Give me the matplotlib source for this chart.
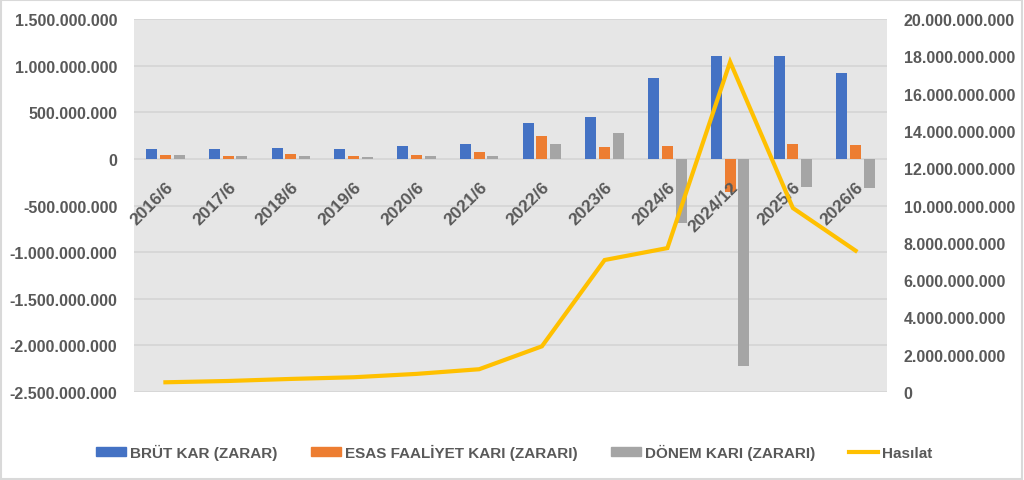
import matplotlib.pyplot as plt
import numpy as np
from matplotlib.patches import Patch, Rectangle
from matplotlib.lines import Line2D
from matplotlib.ticker import FuncFormatter, MultipleLocator

# data
periods = ['2016/6', '2017/6', '2018/6', '2019/6', '2020/6', '2021/6',
           '2022/6', '2023/6', '2024/6', '2024/12', '2025/6', '2026/6']
brut_kar = [107e6, 107e6, 121e6, 107e6, 142e6, 164e6,
            386e6, 454e6, 866e6, 1101e6, 1101e6, 922e6]
esas_faaliyet = [46e6, 35e6, 57e6, 35e6, 46e6, 71e6,
                 250e6, 132e6, 140e6, -350e6, 161e6, 150e6]
donem_kari = [46e6, 28e6, 28e6, 21e6, 35e6, 35e6,
              164e6, 275e6, -686e6, -2217e6, -297e6, -308e6]
hasilat = [0.52e9, 0.59e9, 0.70e9, 0.79e9, 0.97e9, 1.22e9,
           2.45e9, 7.08e9, 7.72e9, 17.71e9, 9.87e9, 7.58e9]

txt = '#595959'
font = 'Liberation Sans'


def dotted(v, pos):
    return f"{int(round(v)):,}".replace(',', '.')


fig = plt.figure(figsize=(10.24, 4.81), dpi=100)
fig.patches.append(Rectangle((0.001, 0.002), 0.997, 0.995, transform=fig.transFigure,
                             fill=False, edgecolor='#D9D9D9', lw=1.5))
ax = fig.add_axes([0.1309, 0.183, 0.7353, 0.775])
ax.set_facecolor('#E6E6E6')

x = np.arange(len(periods))
w = 0.175
ax.bar(x - 0.218, brut_kar, w, color='#4472C4', zorder=3)
ax.bar(x, esas_faaliyet, w, color='#ED7D31', zorder=3)
ax.bar(x + 0.218, donem_kari, w, color='#A5A5A5', zorder=3)

ax.set_xlim(-0.5, len(periods) - 0.5)
ax.set_ylim(-2.5e9, 1.5e9)
ax.yaxis.set_major_locator(MultipleLocator(5e8))
ax.yaxis.set_major_formatter(FuncFormatter(dotted))
ax.grid(axis='y', color='#D4D4D4', lw=1.2, zorder=0)
ax.set_axisbelow(True)
ax.xaxis.set_zorder(4)  # category labels sit over the bars
for s in ax.spines.values():
    s.set_visible(False)
ax.spines['bottom'].set_position(('data', 0))
ax.set_xticks(x)
ax.set_xticklabels(periods, rotation=45, ha='right', va='top',
                   rotation_mode='anchor')
ax.tick_params(axis='x', length=0, pad=14)
ax.tick_params(axis='y', length=0, pad=12)
for lab in ax.get_xticklabels():
    lab.set_fontfamily(font)
    lab.set_fontweight('bold')
    lab.set_fontsize(12.5)
    lab.set_color(txt)
for lab in ax.get_yticklabels():
    lab.set_fontfamily(font)
    lab.set_fontweight('bold')
    lab.set_fontsize(11.5)
    lab.set_color(txt)

ax2 = ax.twinx()
ax2.plot(x, hasilat, color='#FFC000', lw=3, solid_joinstyle='miter', zorder=5)
ax2.set_ylim(0, 20e9)
ax2.yaxis.set_major_locator(MultipleLocator(2e9))
ax2.yaxis.set_major_formatter(FuncFormatter(dotted))
for s in ax2.spines.values():
    s.set_visible(False)
ax2.tick_params(axis='y', length=0, pad=12)
for lab in ax2.get_yticklabels():
    lab.set_fontfamily(font)
    lab.set_fontweight('bold')
    lab.set_fontsize(11.5)
    lab.set_color(txt)

handles = [Patch(color='#4472C4'), Patch(color='#ED7D31'), Patch(color='#A5A5A5'),
           Line2D([0], [0], color='#FFC000', lw=3)]
labels = ['BRÜT KAR (ZARAR)', 'ESAS FAALİYET KARI (ZARARI)', 'DÖNEM KARI (ZARARI)', 'Hasılat']
fig.legend(handles, labels, loc='center', bbox_to_anchor=(0.5024, 0.058), ncol=4,
           frameon=False, handlelength=1.95, handleheight=0.55, columnspacing=2.2,
           handletextpad=0.26,
           prop={'family': font, 'weight': 'bold', 'size': 11})
for t in fig.legends[0].get_texts():
    t.set_color(txt)

fig.savefig('out.png', dpi=100)
